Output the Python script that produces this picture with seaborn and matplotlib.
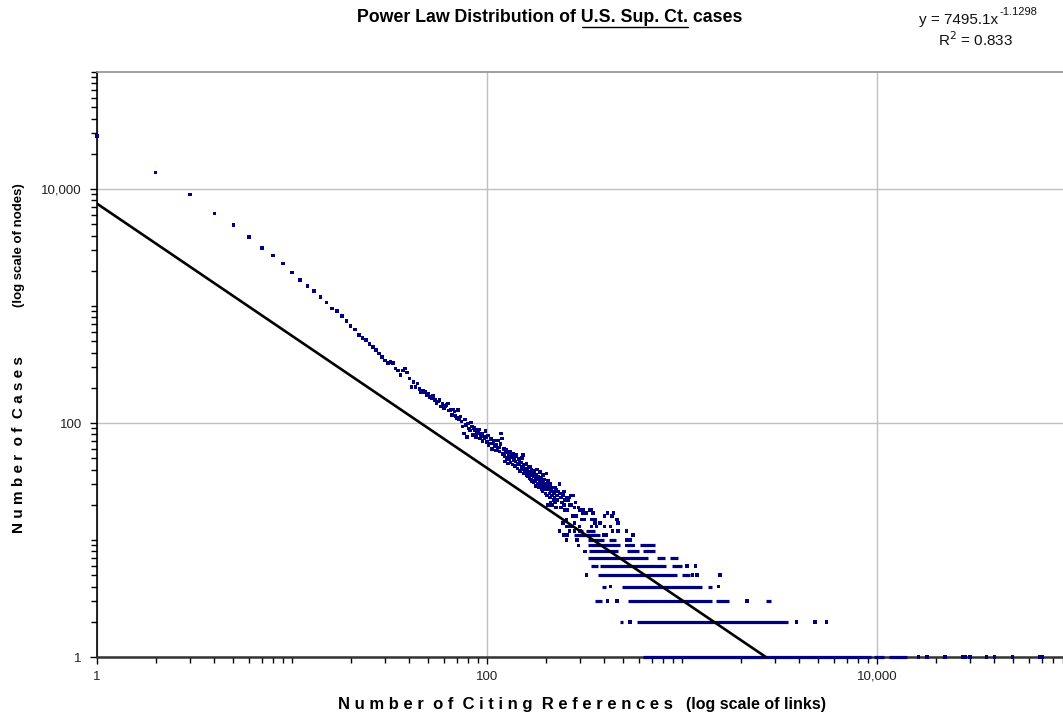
import numpy as np
import matplotlib
matplotlib.use('Agg')
import matplotlib.pyplot as plt
import seaborn as sns
import pandas as pd
from matplotlib.ticker import FixedLocator, LogLocator, FuncFormatter, NullFormatter
from matplotlib.lines import Line2D

# ---------------- data ----------------
# number of cases for 1..230 citing references (one value per integer)
head_y = [28400, 13800, 8950, 6200, 4950, 3900, 3130, 2710, 2300, 1940,
          1670, 1490, 1340, 1190, 1070, 955, 906, 822, 745, 675,
          632, 565, 530, 512, 471, 446, 421, 394, 366, 341,
          327, 331, 324, 293, 282, 257, 280, 293, 269, 241,
          204, 225, 204, 218, 196, 185, 190, 185, 172, 179,
          167, 162, 170, 157, 149, 152, 157, 138, 145, 134,
          140, 142, 147, 128, 129, 117, 131, 125, 115, 110,
          129, 108, 114, 103, 93, 81, 107, 96, 76, 99,
          90, 86, 101, 93, 79, 91, 87, 76, 82, 84,
          88, 74, 79, 81, 70, 77, 74, 85, 76, 69,
          78, 64, 67, 72, 74, 60, 67, 70, 63, 71,
          58, 65, 61, 71, 62, 57, 66, 81, 74, 54,
          55, 60, 52, 47, 56, 59, 50, 45, 53, 49,
          57, 46, 51, 54, 44, 55, 48, 50, 43, 47,
          53, 52, 41, 45, 49, 44, 48, 39, 46, 42,
          50, 40, 53, 43, 37, 38, 44, 41, 45, 36,
          39, 35, 42, 38, 34, 42, 36, 33, 40, 32,
          38, 37, 31, 35, 39, 32, 34, 29, 36, 40,
          33, 30, 35, 28, 33, 31, 38, 30, 34, 27,
          32, 29, 26, 36, 31, 28, 33, 27, 30, 25,
          29, 37, 24, 31, 32, 20, 27, 29, 25, 30,
          23, 21, 26, 27, 20, 24, 28, 28, 22, 25,
          26, 23, 21, 27, 28, 19, 27, 24, 22, 22]
head_x = list(range(1, len(head_y) + 1))

# isolated points in the scattered tail
dots_x = [236, 249, 232, 235, 245, 245, 270, 276, 239, 255, 265, 259, 261, 250,
          243, 285, 249, 270, 265, 240, 281, 294, 250, 259, 299, 310, 338, 343,
          310, 323, 350, 445, 415, 276, 287, 400, 437, 305, 317, 343, 358, 255,
          465, 245, 281, 358, 470, 380, 255, 270, 343, 365, 400, 298, 430, 262,
          235, 299, 281, 440, 470, 520, 265, 249, 259, 395, 410, 560,
          256, 290, 520, 540, 294, 520, 560, 318, 1060, 1170, 324, 1130, 1190,
          1570, 430, 1540, 415, 465, 2150, 540, 3860, 4800, 5500,
          16300, 18000, 22300, 27500, 28500, 30000, 36500, 40000, 49500, 68000, 70000]
dots_y = [30, 26, 26, 25, 25, 24, 24, 24, 23, 23, 23, 23, 22, 22,
          21, 21, 20, 20, 20, 19, 19, 19, 18, 18, 18, 18, 18, 18,
          17, 17, 17, 17, 17, 16, 16, 16, 16, 15, 15, 15, 15, 15,
          15, 14, 14, 14, 14, 14, 13, 13, 13, 13, 13, 13, 13, 13,
          12, 12, 12, 12, 12, 12, 12, 11, 11, 11, 11, 11,
          10, 10, 10, 10, 9, 9, 9, 8, 6, 6, 5, 5, 5,
          5, 4, 4, 3, 3, 3, 2, 2, 2, 2,
          1, 1, 1, 1, 1, 1, 1, 1, 1, 1, 1]

# runs of consecutive points forming solid horizontal bands
run_level = [1, 1, 1, 2, 2, 3, 3, 3, 3, 4, 4, 4, 5, 5, 6, 6, 6,
             7, 7, 7, 8, 8, 8, 9, 9, 9, 10, 10, 11, 12, 12]
run_start = [630, 9600, 11500, 480, 590, 356, 530, 1500, 2700, 387, 490, 1360, 370, 1000, 340, 380, 890,
             330, 740, 870, 335, 520, 630, 330, 520, 610, 330, 420, 280, 300, 320]
run_end = [9300, 10800, 14300, 500, 3500, 387, 1430, 1750, 2850, 410, 1260, 1430, 940, 1100, 370, 830, 1000,
           670, 820, 955, 470, 600, 727, 480, 560, 730, 400, 460, 380, 310, 360]

# power-law trendline parameters
fit_a = 7495.1
fit_b = -1.1298
fit_r2 = 0.833

x_ticks = [1, 100, 10000, 1000000]
y_ticks = [1, 100, 10000, 1000000]

# ---------------- figure ----------------
sns.set_theme(style='white')
plt.rcParams['font.family'] = ['Liberation Sans', 'DejaVu Sans']

W, H = 1063, 715
fig = plt.figure(figsize=(W / 100, H / 100), dpi=100)
fig.patch.set_facecolor('white')
ax = fig.add_axes([97 / W, 58 / H, 975 / W, 585 / H])
ax.set_xscale('log')
ax.set_yscale('log')
ax.set_xlim(1, 100000)
ax.set_ylim(1, 100000)

navy = '#000080'
pts = pd.DataFrame({'x': head_x + dots_x, 'y': head_y + dots_y})
sns.scatterplot(data=pts, x='x', y='y', ax=ax, marker='s', s=6.5, color=navy,
                edgecolor='none', linewidth=0, zorder=4, clip_on=False, legend=False)
ax.hlines(run_level, run_start, run_end, colors=navy, linewidth=2.3, zorder=4, clip_on=False)

# trendline
x_end = (1.0 / fit_a) ** (1.0 / fit_b)
fx = np.geomspace(1, x_end, 200)
fit_df = pd.DataFrame({'x': fx, 'y': fit_a * fx ** fit_b})
sns.lineplot(data=fit_df, x='x', y='y', ax=ax, color='black', linewidth=1.9, zorder=5)

# axes styling
ax.set_xlabel('')
ax.set_ylabel('')
for axis, ticks in ((ax.xaxis, x_ticks), (ax.yaxis, y_ticks)):
    axis.set_major_locator(FixedLocator(ticks))
    axis.set_minor_locator(LogLocator(base=10, subs=np.arange(1, 10), numticks=50))
    axis.set_major_formatter(FuncFormatter(lambda v, p: f'{v:,.0f}'))
    axis.set_minor_formatter(NullFormatter())
ax.grid(True, which='major', color='#c0c0c0', linewidth=1)
ax.set_axisbelow(True)
ax.tick_params(which='both', direction='out', color='black', width=1,
               bottom=True, left=True, top=False, right=False)
ax.tick_params(which='major', length=5)
ax.tick_params(which='minor', length=4)
ax.tick_params(axis='y', which='major', pad=6, labelsize=9.5, labelcolor='#222222')
ax.tick_params(axis='x', which='major', pad=5, labelsize=9.5, labelcolor='#222222')
ax.spines['left'].set_color('black')
ax.spines['left'].set_linewidth(1.2)
ax.spines['bottom'].set_color('#333333')
ax.spines['bottom'].set_linewidth(1.8)
ax.spines['top'].set_color('#909090')
ax.spines['top'].set_linewidth(1.2)
ax.spines['right'].set_visible(False)

narrow = ['Liberation Sans Narrow', 'Liberation Sans', 'DejaVu Sans']

# title with underlined part
renderer = fig.canvas.get_renderer()
t_pre = 'Power Law Distribution of '
t_mid = 'U.S. Sup. Ct.'
t_post = ' cases'
tkw = dict(fontsize=12.8, fontweight='bold', family=narrow, color='black')
def width_px(s):
    t = fig.text(0, 0, s, **tkw)
    w = t.get_window_extent(renderer).width
    t.remove()
    return w
w_pre = width_px(t_pre)
w_premid = width_px(t_pre + t_mid)
w_all = width_px(t_pre + t_mid + t_post)
cx = 550
left = cx - w_all / 2
ty = H - 18
fig.text(left / W, ty / H, t_pre + t_mid + t_post, ha='left', va='center', **tkw)
fig.add_artist(Line2D([(left + w_pre + 1) / W, (left + w_premid) / W],
                      [(ty - 9) / H, (ty - 9) / H], color='black', linewidth=1.0))

# equation
ekw = dict(fontsize=11, color='#111111')
fig.text(998 / W, (H - 20) / H, 'y = 7495.1x', ha='right', va='center', **ekw)
fig.text(999 / W, (H - 12) / H, f'{fit_b:.4f}', ha='left', va='center', fontsize=8, color='#111111')
fig.text(976 / W, (H - 40) / H, f'R$^{{2}}$ = {fit_r2:.3f}', ha='center', va='center', **ekw)

# axis titles
fig.text(673 / W, 11 / H, 'N u m b e r  o f  C i t i n g  R e f e r e n c e s', ha='right', va='center',
         fontsize=12, fontweight='bold', family=narrow, color='black')
fig.text(686 / W, 11 / H, '(log scale of links)', ha='left', va='center',
         fontsize=11.5, fontweight='bold', family=narrow, color='black')
fig.text(19 / W, (H - 533) / H, 'N u m b e r  o f  C a s e s', ha='center', va='bottom', rotation=90,
         fontsize=11, fontweight='bold', family=narrow, color='black')
fig.text(19 / W, (H - 183) / H, '(log scale of nodes)', ha='center', va='top', rotation=90,
         fontsize=9.5, fontweight='bold', family=narrow, color='black')

fig.savefig('out.png', dpi=100)
